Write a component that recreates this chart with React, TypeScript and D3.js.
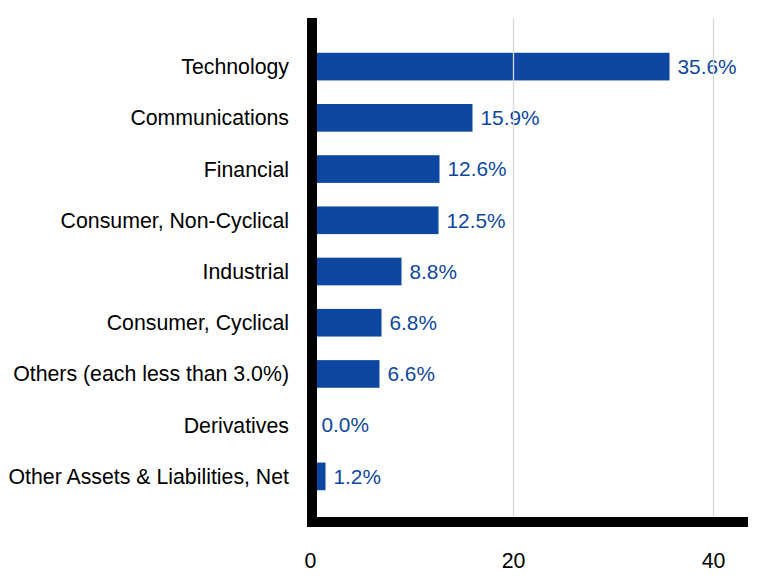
import * as d3 from "d3";
import { useEffect, useRef } from "react";

const categories = [
	"Technology",
	"Communications",
	"Financial",
	"Consumer, Non-Cyclical",
	"Industrial",
	"Consumer, Cyclical",
	"Others (each less than 3.0%)",
	"Derivatives",
	"Other Assets & Liabilities, Net",
];
const values = [35.6, 15.9, 12.6, 12.5, 8.8, 6.8, 6.6, 0.0, 1.2];
const tickValues = [0, 20, 40];

const width = 780;
const height = 588;
const barColor = "#0d47a1";
const font = "Arial, 'Liberation Sans', sans-serif";

export default function App() {
	const ref = useRef<SVGSVGElement | null>(null);

	useEffect(() => {
		if (!ref.current) return;
		const svg = d3.select(ref.current);
		svg.selectAll("*").remove();

		const x = d3.scaleLinear().domain([0, 43.4]).range([313.5, 747.5]);
		const y = d3
			.scaleBand<string>()
			.domain(categories)
			.range([41, 502])
			.paddingInner(0.46)
			.paddingOuter(0.23);

		const data = categories.map((c, i) => ({ name: c, value: values[i] }));

		// bars
		svg
			.append("g")
			.selectAll("rect")
			.data(data)
			.join("rect")
			.attr("x", x(0))
			.attr("y", (d) => y(d.name)!)
			.attr("width", (d) => x(d.value) - x(0))
			.attr("height", y.bandwidth())
			.attr("fill", barColor);

		// value labels
		svg
			.append("g")
			.selectAll("text")
			.data(data)
			.join("text")
			.attr("x", (d) => x(d.value) + 8)
			.attr("y", (d) => y(d.name)! + y.bandwidth() / 2)
			.attr("dy", "0.35em")
			.attr("fill", barColor)
			.style("font", `20.8px ${font}`)
			.text((d) => `${d.value.toFixed(1)}%`);

		// gridlines
		svg
			.append("g")
			.selectAll("line")
			.data(tickValues.filter((t) => t > 0))
			.join("line")
			.attr("x1", (d) => x(d))
			.attr("x2", (d) => x(d))
			.attr("y1", 18)
			.attr("y2", 517)
			.attr("stroke", "#d9d9d9")
			.attr("stroke-width", 1.3);

		// category labels
		svg
			.append("g")
			.selectAll("text")
			.data(data)
			.join("text")
			.attr("x", 289)
			.attr("y", (d) => y(d.name)! + y.bandwidth() / 2)
			.attr("dy", "0.35em")
			.attr("text-anchor", "end")
			.attr("fill", "#000")
			.style("font", `21.3px ${font}`)
			.text((d) => d.name);

		// axes lines
		svg
			.append("rect")
			.attr("x", 307)
			.attr("y", 18)
			.attr("width", 10)
			.attr("height", 509)
			.attr("fill", "#000");
		svg
			.append("rect")
			.attr("x", 307)
			.attr("y", 517)
			.attr("width", 441)
			.attr("height", 10)
			.attr("fill", "#000");

		// tick labels
		svg
			.append("g")
			.selectAll("text")
			.data(tickValues)
			.join("text")
			.attr("x", (d) => x(d) - (d === 0 ? 3 : 0))
			.attr("y", 568)
			.attr("text-anchor", "middle")
			.attr("fill", "#000")
			.style("font", `21.3px ${font}`)
			.text((d) => d);
	}, []);

	return (
		<svg
			ref={ref}
			width={width}
			height={height}
			style={{ display: "block", margin: -8 }}
		></svg>
	);
}
